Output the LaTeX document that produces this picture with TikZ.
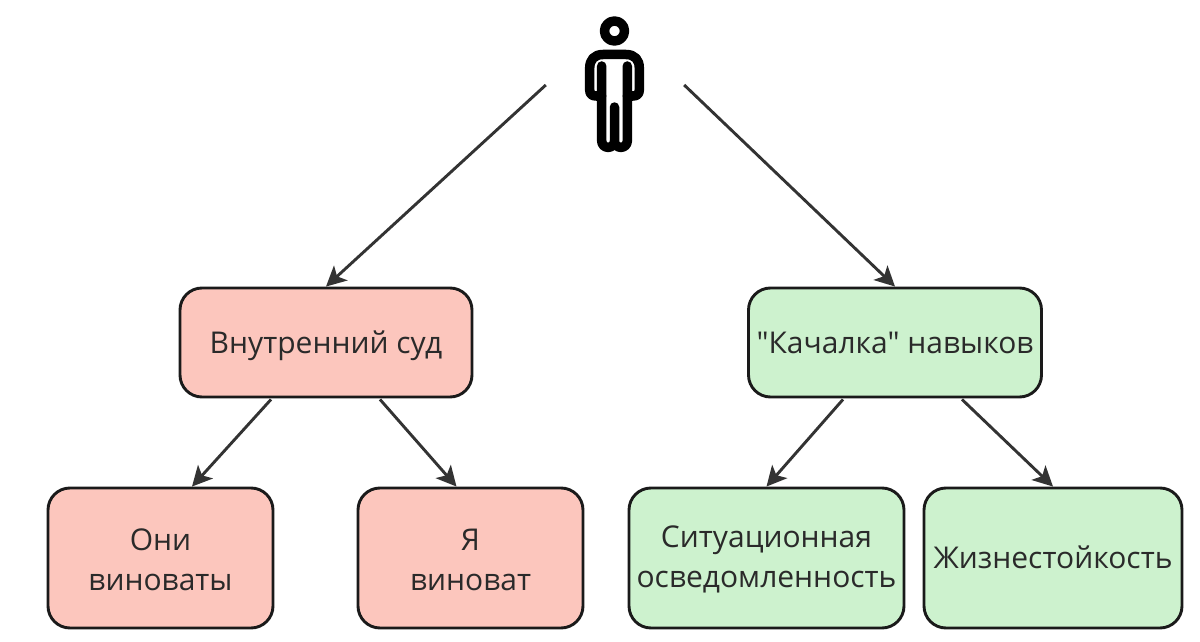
\documentclass[tikz,border=0pt]{standalone}
\usepackage{fontspec}
\setmainfont{Open Sans}[Ligatures=TeXOff]
\usetikzlibrary{arrows.meta,calc}
\definecolor{redfill}{HTML}{FCC6BD}
\definecolor{greenfill}{HTML}{CDF2CE}
\definecolor{ink}{HTML}{2A2A2A}
\definecolor{edgeink}{HTML}{1A1A1A}
\definecolor{arrowink}{HTML}{333333}
\newcommand{\liftline}{\rule{0pt}{24.5pt}}
\tikzset{
  x=1pt,y=-1pt,
  box/.style={draw=edgeink,line width=2.9pt,rounded corners=22pt,align=center,inner sep=0pt,
    text=ink,font=\fontsize{30}{40}\selectfont},
  single/.style={text height=28pt,text depth=7pt},
  redbox/.style={box,fill=redfill},
  greenbox/.style={box,fill=greenfill},
  link/.style={draw=arrowink,line width=2.9pt,-{Stealth[length=20pt,width=20pt,inset=5pt]}},
  figure/.style={draw=black,line width=9.5pt,line cap=round,line join=round}
}
\begin{document}
\begin{tikzpicture}
\useasboundingbox (0,0) rectangle (1200,642);
% person
\node[draw=none,minimum width=138pt,minimum height=140pt,inner sep=0pt] (person) at (615,85) {};
\draw[figure] (614.5,31) circle[radius=10];
\draw[figure] (601.7,66) -- (601.7,141)
  arc[start angle=180,end angle=360,radius=6.4,y radius=-6.4] -- (614.5,107) -- (614.5,141)
  arc[start angle=180,end angle=360,radius=6.4,y radius=-6.4] -- (627.3,66);
\draw[figure] (601.7,96) -- (596,96) .. controls (592,96) and (589.7,94) .. (589.7,90)
  -- (589.7,68) .. controls (589.7,60) and (594,54.5) .. (603,54.5) -- (626,54.5)
  .. controls (635,54.5) and (639.3,60) .. (639.3,68) -- (639.3,90)
  .. controls (639.3,94) and (637,96) .. (633,96) -- (627.3,96);
% boxes
\node[redbox,single,minimum width=292pt,minimum height=109pt] (court) at (326,342.5) {Внутренний суд};
\node[greenbox,single,minimum width=293pt,minimum height=109pt] (gym) at (895,342.5) {"Качалка" навыков};
\node[redbox,minimum width=225pt,minimum height=140pt] (they) at (160.5,558) {\liftline Они\\виноваты};
\node[redbox,minimum width=225pt,minimum height=140pt] (me) at (470.5,558) {\liftline Я\\виноват};
\node[greenbox,minimum width=275pt,minimum height=140pt] (aware) at (766.5,558) {\liftline Ситуационная\\осведомленность};
\node[greenbox,single,minimum width=258pt,minimum height=140pt] (hardy) at (1053,558) {Жизнестойкость};
% free ends
\coordinate (pl) at ($(person.west)+(0,0)$);
\coordinate (pr) at ($(person.east)+(0,0)$);
% connectors
\draw[link] (pl) -- (court.north);
\draw[link] (pr) -- (gym.north);
\draw[link] ($(court.south)+(-55,1)$) -- ($(they.north)+(31.5,0)$);
\draw[link] ($(court.south)+(54,1)$) -- ($(me.north)+(-14,0)$);
\draw[link] ($(gym.south)+(-52,1)$) -- ($(aware.north)+(0,0)$);
\draw[link] ($(gym.south)+(67,1)$) -- ($(hardy.north)+(0,0)$);
\end{tikzpicture}
\end{document}
